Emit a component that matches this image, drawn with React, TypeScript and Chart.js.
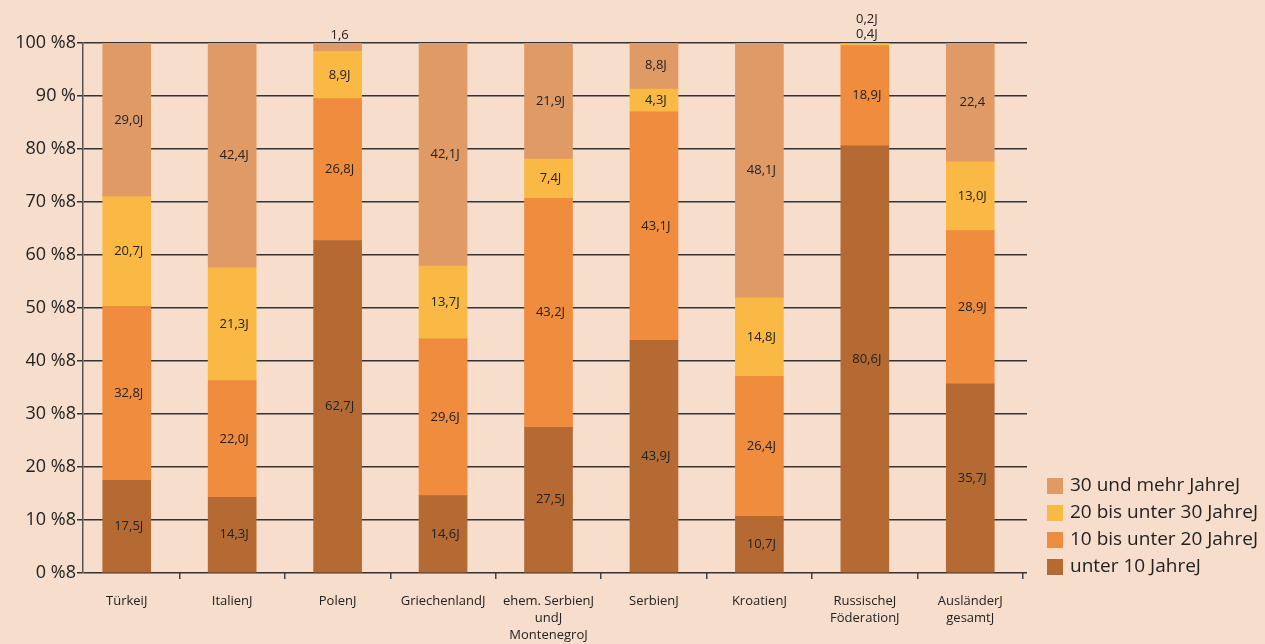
import React, { useEffect, useRef } from "react";
import { Chart, registerables } from "chart.js";

Chart.register(...registerables);

const categories: (string | string[])[] = [
  "TürkeiJ",
  "ItalienJ",
  "PolenJ",
  "GriechenlandJ",
  ["ehem. SerbienJ", "undJ", "MontenegroJ"],
  "SerbienJ",
  "KroatienJ",
  ["RussischeJ", "FöderationJ"],
  ["AusländerJ", "gesamtJ"],
];

const seriesNames = ["unter 10 JahreJ", "10 bis unter 20 JahreJ", "20 bis unter 30 JahreJ", "30 und mehr JahreJ"];
const seriesColors = ["#B56A33", "#F08C3E", "#F9B944", "#E09A65"];

const under10 = [17.5, 14.3, 62.7, 14.6, 27.5, 43.9, 10.7, 80.6, 35.7];
const from10to20 = [32.8, 22.0, 26.8, 29.6, 43.2, 43.1, 26.4, 18.9, 28.9];
const from20to30 = [20.7, 21.3, 8.9, 13.7, 7.4, 4.3, 14.8, 0.4, 13.0];
const over30 = [29.0, 42.4, 1.6, 42.1, 21.9, 8.8, 48.1, 0.2, 22.4];

const under10Labels = ["17,5J", "14,3J", "62,7J", "14,6J", "27,5J", "43,9J", "10,7J", "80,6J", "35,7J"];
const from10to20Labels = ["32,8J", "22,0J", "26,8J", "29,6J", "43,2J", "43,1J", "26,4J", "18,9J", "28,9J"];
const from20to30Labels = ["20,7J", "21,3J", "8,9J", "13,7J", "7,4J", "4,3J", "14,8J", "0,4J", "13,0J"];
const over30Labels = ["29,0J", "42,4J", "1,6", "42,1J", "21,9J", "8,8J", "48,1J", "0,2J", "22,4"];

const yTickLabels = ["0 %8", "10 %8", "20 %8", "30 %8", "40 %8", "50 %8", "60 %8", "70 %8", "80 %8", "90 %", "100 %8"];

const BG = "#F6DDCC";
const FONT = "'Open Sans', 'Noto Sans', sans-serif";
const TEXT = "#222222";

export default function App() {
  const ref = useRef<HTMLCanvasElement | null>(null);

  useEffect(() => {
    document.body.style.margin = "0";
    document.body.style.background = BG;
    const canvas = ref.current;
    if (!canvas) return;

    const seriesValues = [under10, from10to20, from20to30, over30];
    const seriesLabels = [under10Labels, from10to20Labels, from20to30Labels, over30Labels];

    const bandPlugin = {
      id: "bandShift",
      afterLayout(chart: any) {
        const xs = chart.scales.x;
        const area = chart.chartArea;
        xs.left = area.left - 9;
        xs.right = area.right - 4;
        xs.width = xs.right - xs.left;
        xs.configure();
      },
    };

    const labelPlugin = {
      id: "segLabels",
      afterDatasetsDraw(chart: any) {
        const ctx = chart.ctx;
        ctx.save();
        ctx.font = `13px ${FONT}`;
        ctx.fillStyle = TEXT;
        ctx.textAlign = "center";
        ctx.textBaseline = "middle";
        const n = categories.length;
        for (let i = 0; i < n; i++) {
          let smallCount = 0;
          let topY = Infinity;
          for (let d = 0; d < seriesValues.length; d++) {
            const el = chart.getDatasetMeta(d).data[i];
            topY = Math.min(topY, el.y);
          }
          for (let d = 0; d < seriesValues.length; d++) {
            const el: any = chart.getDatasetMeta(d).data[i];
            const v = seriesValues[d][i];
            const txt = seriesLabels[d][i];
            let y: number;
            if (v < 3) {
              y = topY - 8 - 15 * smallCount;
              smallCount++;
            } else {
              y = (el.y + el.base) / 2;
            }
            ctx.fillText(txt, el.x + 2, y);
          }
        }
        ctx.restore();
      },
    };

    const legendPlugin = {
      id: "customLegend",
      afterDraw(chart: any) {
        const ctx = chart.ctx;
        ctx.save();
        ctx.font = `19px ${FONT}`;
        ctx.textBaseline = "middle";
        ctx.textAlign = "left";
        for (let k = 0; k < seriesNames.length; k++) {
          const d = seriesNames.length - 1 - k;
          const cy = 486 + 27 * k;
          ctx.fillStyle = seriesColors[d];
          ctx.fillRect(1047, cy - 8, 16, 16);
          ctx.fillStyle = TEXT;
          ctx.fillText(seriesNames[d], 1070, cy);
        }
        ctx.restore();
      },
    };

    const chart = new Chart(canvas, {
      type: "bar",
      data: {
        labels: categories as any,
        datasets: seriesNames.map((name, d) => ({
          label: name,
          data: seriesValues[d],
          backgroundColor: seriesColors[d],
          borderWidth: 0,
          barThickness: 48,
        })),
      },
      options: {
        animation: false,
        responsive: false,
        maintainAspectRatio: false,
        layout: { padding: { top: 43, right: 238, bottom: 0, left: 0 } },
        plugins: {
          legend: { display: false },
          tooltip: { enabled: false },
        },
        scales: {
          x: {
            stacked: true,
            offset: true,
            grid: {
              display: true,
              offset: true,
              drawOnChartArea: false,
              drawTicks: true,
              tickLength: 6,
              color: (c: any) => (c.index === 0 ? "rgba(0,0,0,0)" : "#444"),
              lineWidth: 1.5,
            },
            border: { display: false },
            ticks: {
              color: TEXT,
              font: { size: 13, family: FONT, lineHeight: 1.3 },
              padding: 14,
              maxRotation: 0,
              autoSkip: false,
            },
            afterFit: (s: any) => {
              s.height = 71;
            },
          },
          y: {
            stacked: true,
            min: 0,
            max: 100,
            ticks: {
              stepSize: 10,
              color: TEXT,
              font: { size: 18, family: FONT },
              padding: 1,
              callback: (_v: any, idx: number) => yTickLabels[idx],
            },
            grid: {
              color: "#333",
              lineWidth: 1.5,
              tickLength: 6,
              drawTicks: true,
            },
            border: { display: true, color: "#555", width: 1.5 },
            afterFit: (s: any) => {
              s.width = 83;
            },
          },
        },
      },
      plugins: [bandPlugin, labelPlugin, legendPlugin],
    });

    return () => chart.destroy();
  }, []);

  return (
    <div style={{ width: 1265, height: 644, background: BG }}>
      <canvas ref={ref} width={1265} height={644} style={{ display: "block" }} />
    </div>
  );
}
